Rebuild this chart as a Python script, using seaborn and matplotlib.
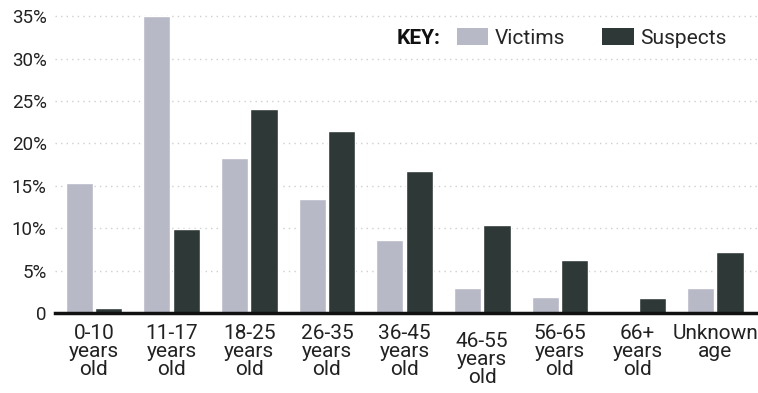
import matplotlib
matplotlib.use("Agg")
import matplotlib.pyplot as plt
import matplotlib.transforms as mtransforms
from matplotlib.patches import Patch
import seaborn as sns
import pandas as pd

categories = ["0-10\nyears\nold", "11-17\nyears\nold", "18-25\nyears\nold", "26-35\nyears\nold",
              "36-45\nyears\nold", "46-55\nyears\nold", "56-65\nyears\nold", "66+\nyears\nold",
              "Unknown\nage"]
victims = [15.3, 35.0, 18.3, 13.4, 8.6, 2.9, 1.9, 0.1, 2.9]
suspects = [0.6, 9.9, 24.1, 21.4, 16.7, 10.4, 6.2, 1.8, 7.2]
series = ["Victims", "Suspects"]
yticks = [0, 5, 10, 15, 20, 25, 30, 35]
ytick_labels = ["0", "5%", "10%", "15%", "20%", "25%", "30%", "35%"]

df = pd.DataFrame({
    "cat": categories * 2,
    "val": victims + suspects,
    "series": [series[0]] * len(categories) + [series[1]] * len(categories),
})

sns.set_style("white")
font = ["Roboto", "DejaVu Sans"]
plt.rcParams["font.family"] = font

colors = {"Victims": "#b7b9c6", "Suspects": "#2e3937"}

fig = plt.figure(figsize=(7.58, 3.93), dpi=100)
ax = fig.add_axes([55 / 758, 80 / 393, 1 - 55 / 758, (313 - 14) / 393])

sns.barplot(data=df, x="cat", y="val", hue="series", palette=colors, ax=ax,
            width=0.76, gap=0.08, legend=False, saturation=1)

ax.set_ylim(0, 35.25)
ax.set_xlim(-0.5, 8.55)
ax.set_yticks(yticks)
ax.set_yticklabels(ytick_labels, fontsize=13.5, color="#222222")
ax.set_xlabel("")
ax.set_ylabel("")
ax.tick_params(axis="x", labelsize=15, length=0, pad=8, colors="#222222")
ax.tick_params(axis="y", length=0, pad=6)
for lbl in ax.get_xticklabels():
    lbl.set_linespacing(0.92)
# shift the 46-55 label down a bit as in the reference
lab = ax.get_xticklabels()[5]
lab.set_transform(lab.get_transform() + mtransforms.ScaledTranslation(0, -8 / 100, fig.dpi_scale_trans))

ax.yaxis.grid(True, linestyle=(0, (1, 3)), color="#cfcfcf", linewidth=1)
ax.set_axisbelow(True)
for s in ["top", "right", "left"]:
    ax.spines[s].set_visible(False)
ax.spines["bottom"].set_linewidth(2.5)
ax.spines["bottom"].set_color("#111111")

fig.text(397 / 758, 1 - 38 / 393, "KEY:", fontsize=15, fontweight="bold", va="center", ha="left",
         color="#111111")
handles = [Patch(facecolor=colors[s], edgecolor="none") for s in series]
ax.legend(handles, series, loc="center left", bbox_to_anchor=(457 / 758, 1 - 38 / 393),
          bbox_transform=fig.transFigure, ncol=2, frameon=False, fontsize=15,
          handlelength=1.5, handleheight=0.9, handletextpad=0.3, columnspacing=1.8,
          borderpad=0, borderaxespad=0)

fig.savefig("out.png", dpi=100)
